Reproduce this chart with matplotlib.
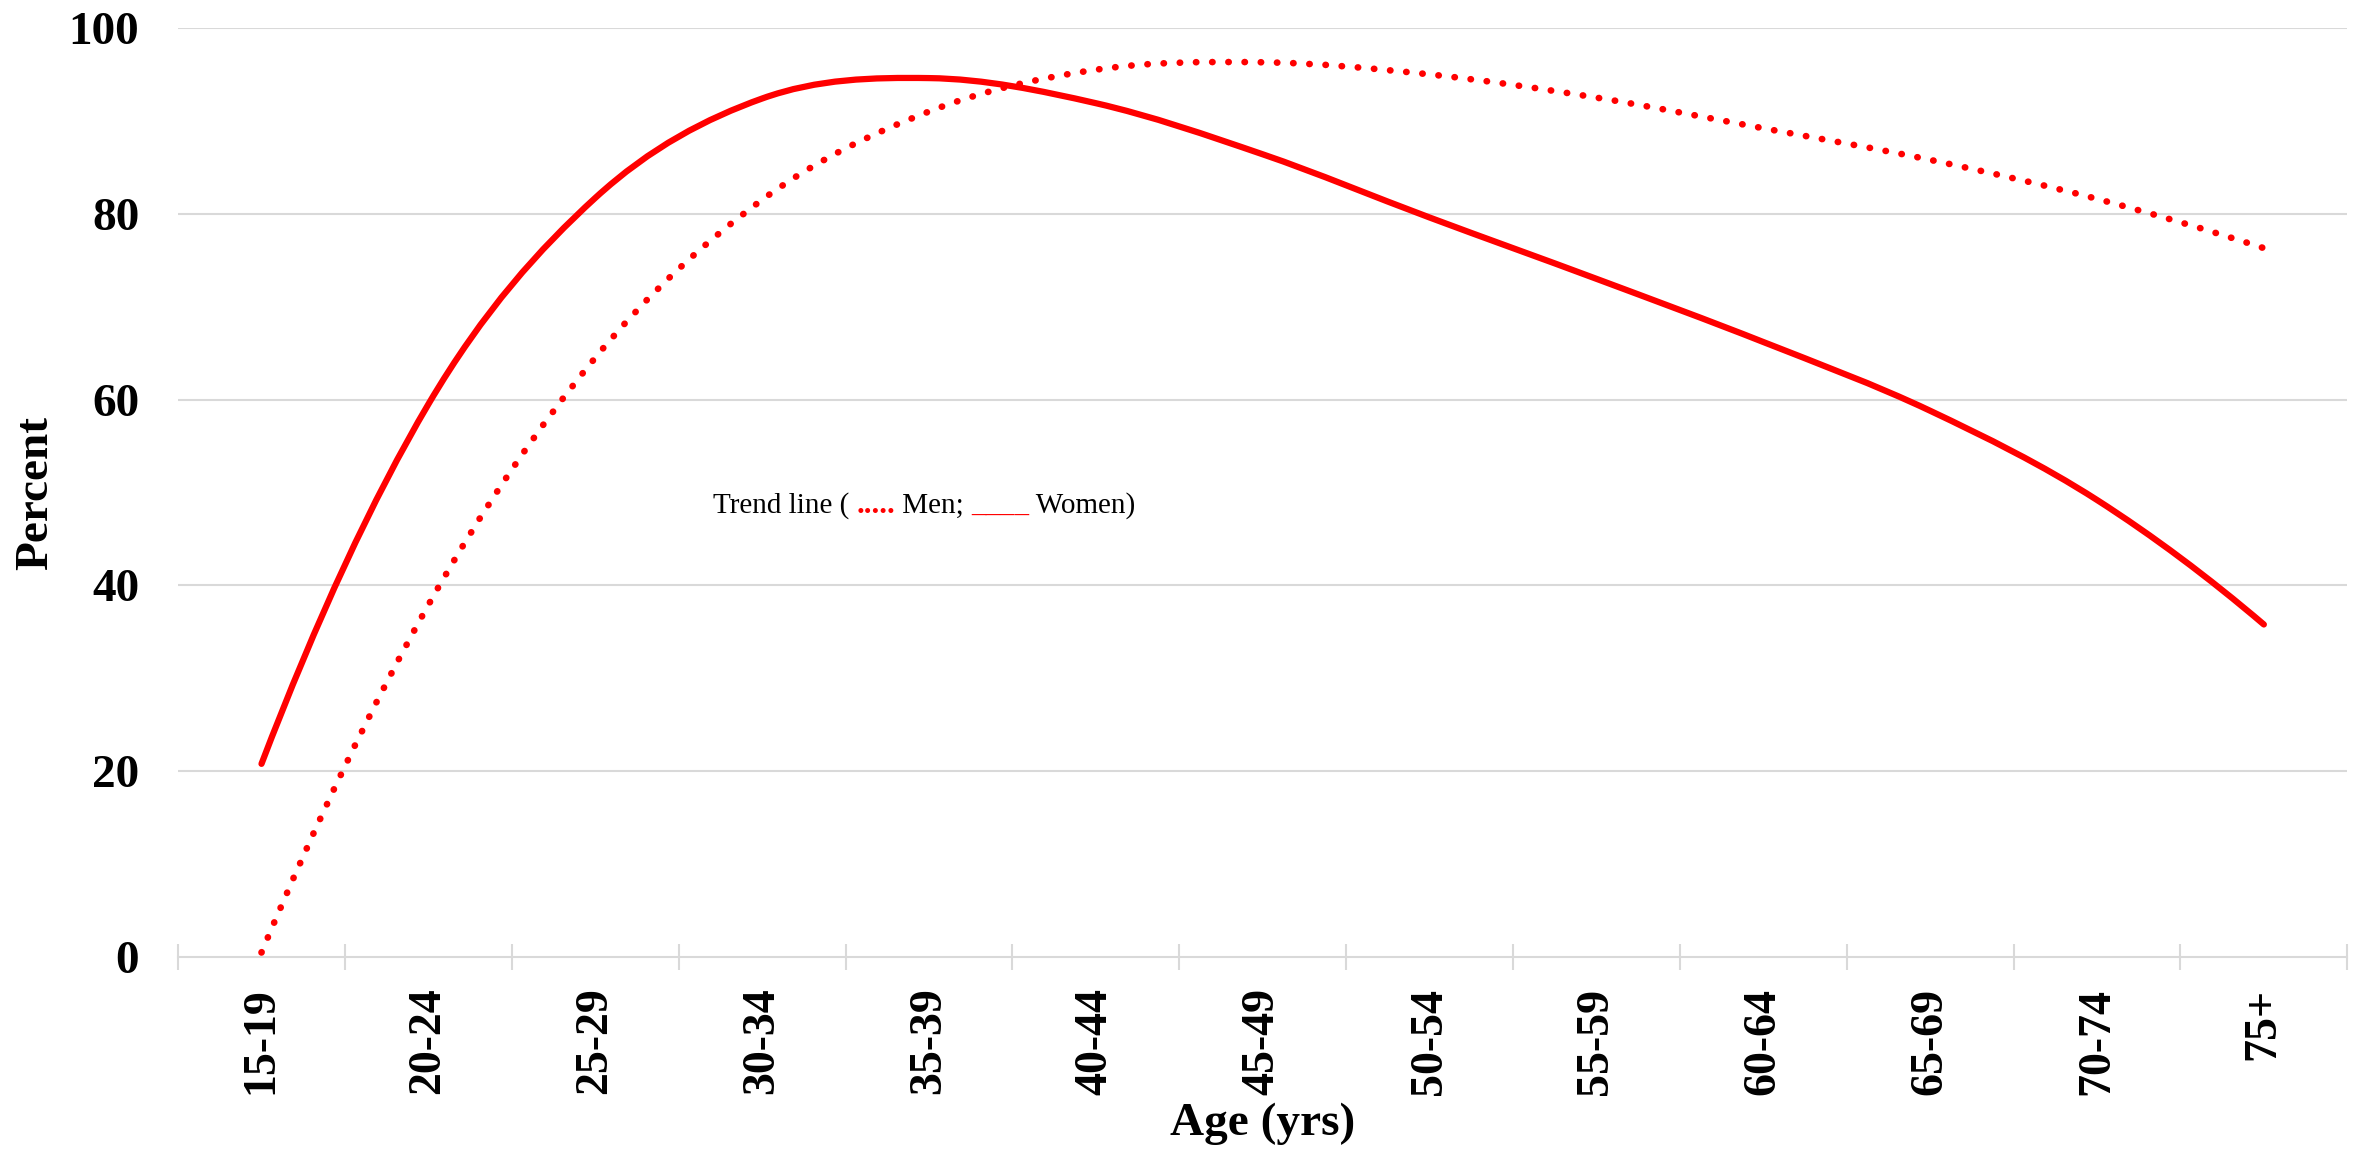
import matplotlib
matplotlib.use("Agg")
import matplotlib.pyplot as plt
from matplotlib.path import Path
from matplotlib.patches import PathPatch
from matplotlib.offsetbox import TextArea, HPacker, AnnotationBbox
import numpy as np

# age groups on the x axis
age_groups = ["15-19", "20-24", "25-29", "30-34", "35-39", "40-44", "45-49",
              "50-54", "55-59", "60-64", "65-69", "70-74", "75+"]

# trend line values (percent)
men = [0.5, 37.9, 64.5, 81.5, 91.0, 95.5, 96.3, 95.0, 92.5, 89.2, 85.8, 81.6, 76.3]
women = [20.8, 59.5, 81.7, 92.4, 94.6, 91.9, 86.4, 79.6, 73.0, 66.2, 58.8, 49.2, 35.8]

y_ticks = [0, 20, 40, 60, 80, 100]

RED = "#ff0000"
GRID = "#d9d9d9"
SERIF = "Liberation Serif"


# smoothed line through the points (catmull-rom as bezier segments,
# ends extended with a quadratic guess so the curve keeps bending)
def smooth_path(xs, ys):
  pts = np.column_stack([xs, ys]).astype(float)
  first = 3 * pts[0] - 3 * pts[1] + pts[2]
  last = 3 * pts[-1] - 3 * pts[-2] + pts[-3]
  ext = np.vstack([first, pts, last])
  verts = [pts[0]]
  codes = [Path.MOVETO]
  for i in range(1, len(ext) - 2):
    p0, p1, p2, p3 = ext[i - 1], ext[i], ext[i + 1], ext[i + 2]
    verts += [p1 + (p2 - p0) / 6.0, p2 - (p3 - p1) / 6.0, p2]
    codes += [Path.CURVE4] * 3
  return Path(verts, codes)


fig = plt.figure(figsize=(23.71, 11.63), dpi=100)
ax = fig.add_axes([0.0751, 0.177, 0.9149, 0.799])

x = np.arange(len(age_groups))

# horizontal grid
for v in y_ticks[1:]:
  ax.axhline(v, color=GRID, linewidth=1.5, zorder=0)

# men: dotted
ax.add_patch(PathPatch(
  smooth_path(x, men),
  fill=False,
  edgecolor=RED,
  linewidth=4.8,
  linestyle=(0, (0.05, 2.38)),
  capstyle="round",
  zorder=3
))

# women: solid
ax.add_patch(PathPatch(
  smooth_path(x, women),
  fill=False,
  edgecolor=RED,
  linewidth=4.5,
  capstyle="round",
  joinstyle="round",
  zorder=3
))

ax.set_xlim(-0.5, len(age_groups) - 0.5)
ax.set_ylim(0, 100)

for side in ["top", "right", "left"]:
  ax.spines[side].set_visible(False)
ax.spines["bottom"].set_color(GRID)
ax.spines["bottom"].set_linewidth(1.5)

# category labels at centers, tick marks at the boundaries
ax.set_xticks(x)
ax.set_xticklabels(age_groups, rotation=90, fontfamily=SERIF,
                   fontweight="bold", fontsize=33)
ax.tick_params(axis="x", which="major", length=0, pad=22)
ax.set_xticks(np.arange(len(age_groups) + 1) - 0.5, minor=True)
ax.tick_params(axis="x", which="minor", length=19, width=1.5,
               color=GRID, direction="inout")

ax.set_yticks(y_ticks)
ax.set_yticklabels([str(v) for v in y_ticks], fontfamily=SERIF,
                   fontweight="bold", fontsize=34)
ax.tick_params(axis="y", length=0, pad=28)

ax.set_ylabel("Percent", fontfamily=SERIF, fontweight="bold", fontsize=34,
              labelpad=8)
ax.set_xlabel("Age (yrs)", fontfamily=SERIF, fontsize=34, fontweight="bold",
              labelpad=6)

# inline key
key_style = dict(fontfamily=SERIF, fontsize=21, color="black")
parts = [
  TextArea("Trend line ( ", textprops=key_style),
  TextArea(".....", textprops=dict(fontfamily=SERIF, fontsize=22,
                                   fontweight="bold", color=RED)),
  TextArea(" Men; ", textprops=key_style),
  TextArea("____", textprops=dict(fontfamily=SERIF, fontsize=21, color=RED)),
  TextArea(" Women)", textprops=key_style),
]
key = HPacker(children=parts, align="baseline", pad=0, sep=0)
ax.add_artist(AnnotationBbox(key, (2.705, 48.6), xycoords="data",
                             box_alignment=(0, 0.5), frameon=False, pad=0))

fig.savefig("out.png", dpi=100)
